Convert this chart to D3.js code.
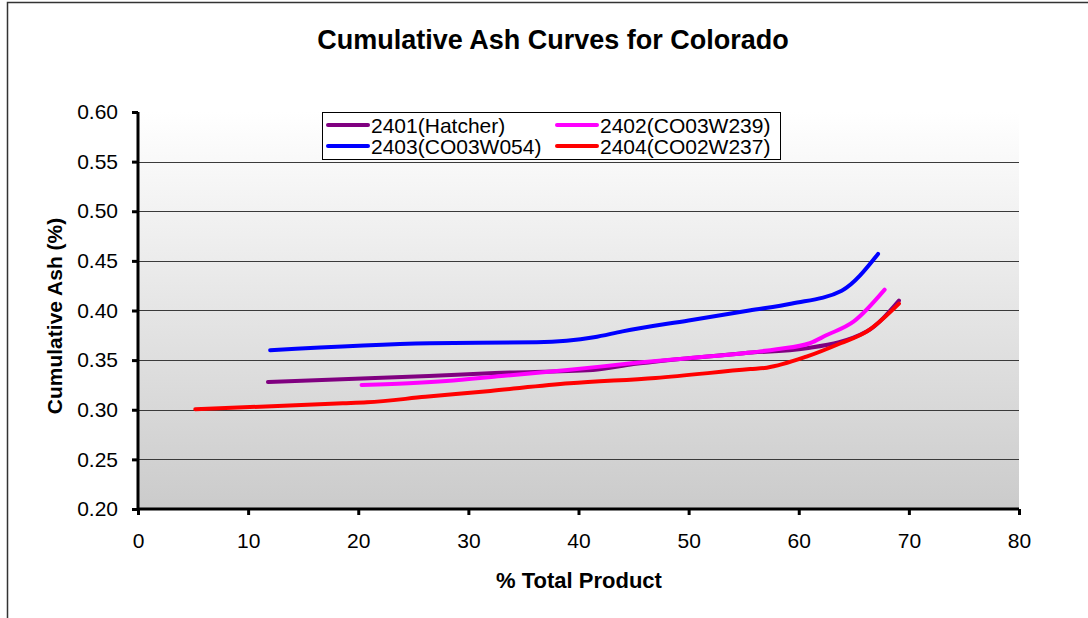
<!DOCTYPE html>
<html>
<head>
<meta charset="utf-8">
<script src="https://cdn.jsdelivr.net/npm/d3@7"></script>
<style>
	body { margin: 0; background: #fff; }
	text { font-family: Arial, "Liberation Sans", sans-serif; }
</style>
</head>
<body>
<svg width="1088" height="618"></svg>
<script>
// series: [% total product, cumulative ash]
var hatcher = [[11.8,0.328],[26.4,0.334],[32.4,0.337],[41.3,0.340],[45,0.346],[50,0.352],[55,0.357],[60.7,0.362],[66.2,0.379],[69.1,0.410]];
var co03w239 = [[20.3,0.325],[25,0.327],[28,0.329],[33,0.334],[39,0.340],[45,0.347],[50,0.352],[55,0.357],[58,0.361],[61,0.367],[62.5,0.375],[65,0.389],[67.8,0.421]];
var co03w054 = [[12.0,0.360],[26.5,0.367],[36.2,0.368],[41.4,0.373],[44,0.379],[50,0.390],[55.5,0.400],[59.4,0.407],[63.9,0.420],[67.2,0.457]];
var co02w237 = [[5.2,0.3005],[18.6,0.3065],[20.8,0.3075],[26.1,0.313],[32.0,0.319],[39.2,0.3266],[47,0.332],[55.6,0.341],[57.1,0.3424],[60.7,0.3535],[63.8,0.367],[66.2,0.379],[69.1,0.407]];

var seriesNames = ["2401(Hatcher)", "2402(CO03W239)", "2403(CO03W054)", "2404(CO02W237)"];
var seriesData = [hatcher, co03w239, co03w054, co02w237];
var seriesColors = ["#800080", "#ff00ff", "#0000ff", "#ff0000"];

var xTicks = [0, 10, 20, 30, 40, 50, 60, 70, 80];
var yTicks = [0.20, 0.25, 0.30, 0.35, 0.40, 0.45, 0.50, 0.55, 0.60];

(function(){
	var svg = d3.select("svg"),
		margin = {top: 112, right: 69, bottom: 109, left: 138},
		width = +svg.attr("width") - margin.left - margin.right,
		height = +svg.attr("height") - margin.top - margin.bottom;

	// outer chart frame
	svg.append("rect")
		.attr("x", 7.5).attr("y", 2.5)
		.attr("width", 1100).attr("height", 700)
		.attr("fill", "none").attr("stroke", "#333").attr("stroke-width", 1.5);

	var grad = svg.append("defs").append("linearGradient")
		.attr("id", "bg").attr("x1", 0).attr("y1", 0).attr("x2", 0).attr("y2", 1);
	grad.append("stop").attr("offset", "0%").attr("stop-color", "#ffffff");
	grad.append("stop").attr("offset", "100%").attr("stop-color", "#cbcbcb");

	var g = svg.append("g")
		.attr("transform", "translate(" + margin.left + "," + margin.top + ")");

	var x = d3.scaleLinear().domain([0, 80]).range([0, width]),
		y = d3.scaleLinear().domain([0.20, 0.60]).range([height, 0]);

	g.append("rect")
		.attr("width", width).attr("height", height)
		.attr("fill", "url(#bg)");

	// gridlines (none at the top value)
	g.selectAll(".grid")
		.data(yTicks.filter(function(d){ return d > 0.2 && d < 0.6; }))
		.enter().append("line")
			.attr("x1", 0).attr("x2", width)
			.attr("y1", function(d){ return Math.round(y(d)) + 0.5; })
			.attr("y2", function(d){ return Math.round(y(d)) + 0.5; })
			.attr("stroke", "#3a3a3a").attr("stroke-width", 1);

	var line = d3.line()
		.x(function(d){ return x(d[0]); })
		.y(function(d){ return y(d[1]); })
		.curve(d3.curveMonotoneX);

	g.selectAll(".series")
		.data(seriesData)
		.enter().append("path")
			.attr("class", "series")
			.attr("d", line)
			.attr("fill", "none")
			.attr("stroke", function(d, i){ return seriesColors[i]; })
			.attr("stroke-width", 4)
			.attr("stroke-linecap", "round")
			.attr("stroke-linejoin", "round");

	var xAxis = g.append("g")
		.attr("transform", "translate(0," + height + ")")
		.call(d3.axisBottom(x).tickValues(xTicks).tickSize(6).tickPadding(18));
	var yAxis = g.append("g")
		.call(d3.axisLeft(y).tickValues(yTicks).tickFormat(d3.format(".2f")).tickSize(6).tickPadding(14));

	[xAxis, yAxis].forEach(function(a){
		a.select(".domain").attr("stroke", "#000").attr("stroke-width", 3);
		a.selectAll(".tick line").attr("stroke", "#000").attr("stroke-width", 3);
		a.selectAll(".tick text")
			.attr("fill", "#000")
			.style("font-size", "21px")
			.style("font-family", "Arial, 'Liberation Sans', sans-serif");
	});
	xAxis.select(".domain").attr("d", "M0,0H" + width);
	yAxis.select(".domain").attr("d", "M0,0V" + height);

	// legend
	var leg = svg.append("g").attr("transform", "translate(322,112)");
	leg.append("rect")
		.attr("x", 0.5).attr("y", 0.5).attr("width", 458).attr("height", 47)
		.attr("fill", "#fff").attr("stroke", "#000").attr("stroke-width", 1);
	var item = leg.selectAll(".item")
		.data(seriesNames)
		.enter().append("g")
			.attr("transform", function(d, i){
				return "translate(" + (i % 2 ? 235 : 6) + "," + (i < 2 ? 13 : 34) + ")";
			});
	item.append("line")
		.attr("x1", 0).attr("x2", 40)
		.attr("stroke", function(d, i){ return seriesColors[i]; })
		.attr("stroke-width", 4).attr("stroke-linecap", "round");
	item.append("text")
		.attr("x", 43).attr("y", 7.5)
		.style("font-size", "21px")
		.text(function(d){ return d; });

	svg.append("text")
		.text("Cumulative Ash Curves for Colorado")
		.attr("x", 553).attr("y", 49)
		.attr("text-anchor", "middle")
		.style("font-size", "27px").style("font-weight", "bold");

	svg.append("text")
		.text("% Total Product")
		.attr("x", 579).attr("y", 588)
		.attr("text-anchor", "middle")
		.style("font-size", "22px").style("font-weight", "bold");

	svg.append("text")
		.text("Cumulative Ash (%)")
		.attr("transform", "translate(62,316) rotate(-90)")
		.attr("text-anchor", "middle")
		.style("font-size", "21px").style("font-weight", "bold");
})();
</script>
</body>
</html>
